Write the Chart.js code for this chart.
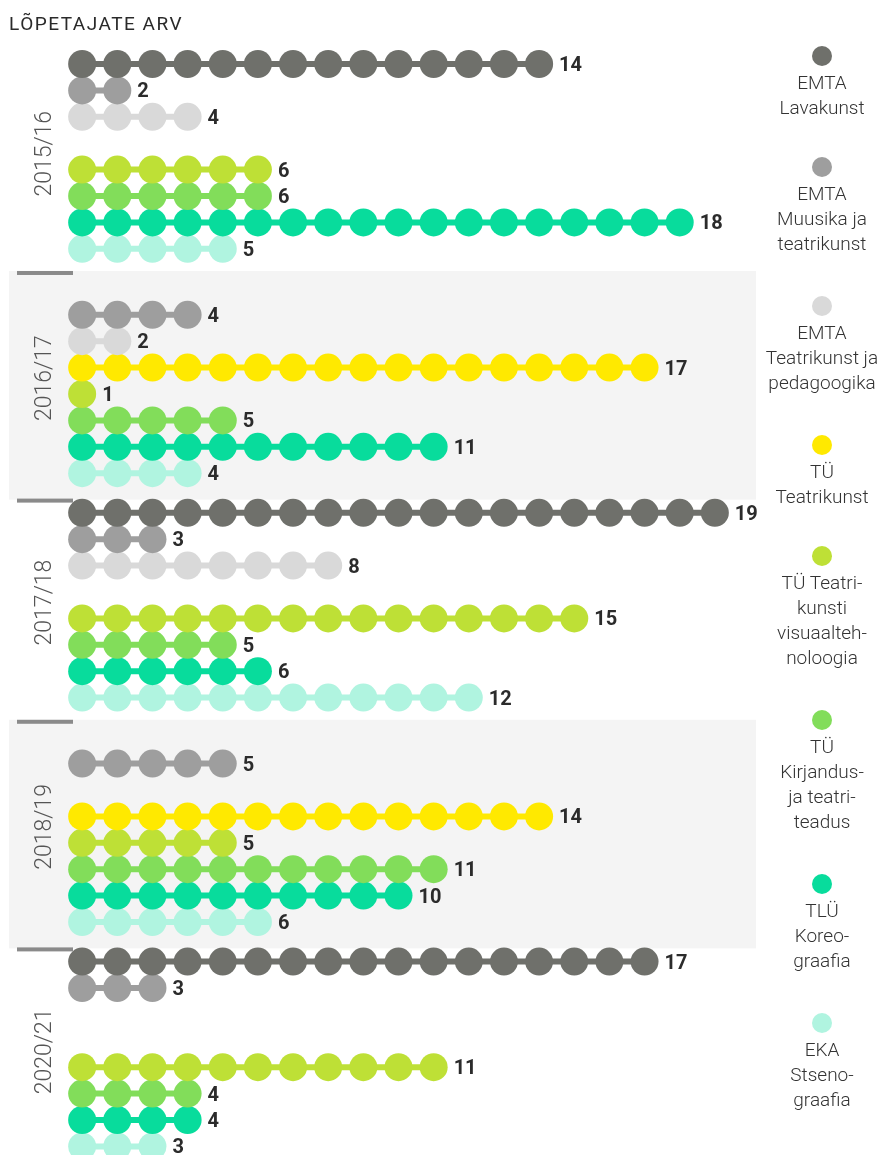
<!DOCTYPE html>
<html>
<head>
<meta charset="utf-8">
<script src="https://cdn.jsdelivr.net/npm/chart.js@4/dist/chart.umd.min.js"></script>
<style>
    body { margin: 0; background: #fff; font-family: Roboto, sans-serif; }
    #wrap { position: relative; width: 884px; height: 1155px; overflow: hidden; }
    #title { position: absolute; left: 9px; top: 12px; font-size: 19px; letter-spacing: 1.5px; color: #2a2a2a; }
    #legend { position: absolute; left: 752px; top: 46px; width: 140px; text-align: center; }
    .item { margin-bottom: 40px; }
    .item.short { margin-bottom: 37px; }
    .dot { width: 20px; height: 20px; border-radius: 50%; margin: 0 auto 4px auto; }
    .lbl { font-size: 19px; font-weight: 300; line-height: 25px; color: #333; white-space: nowrap; }
    #chart-box { position: absolute; left: 0; top: 0; width: 884px; height: 1155px; }
</style>
</head>
<body>
<div id="wrap">
    <div id="chart-box"><canvas id="chart"></canvas></div>
    <div id="title">LÕPETAJATE ARV</div>
    <div id="legend"></div>
</div>
<script>
// years (groups of rows) and programmes
const years = ['2015/16', '2016/17', '2017/18', '2018/19', '2020/21'];
const programmes = [
    ['EMTA', 'Lavakunst'],
    ['EMTA', 'Muusika ja', 'teatrikunst'],
    ['EMTA', 'Teatrikunst ja', 'pedagoogika'],
    ['TÜ', 'Teatrikunst'],
    ['TÜ Teatri-', 'kunsti', 'visuaalteh-', 'noloogia'],
    ['TÜ', 'Kirjandus-', 'ja teatri-', 'teadus'],
    ['TLÜ', 'Koreo-', 'graafia'],
    ['EKA', 'Stseno-', 'graafia']
];

// graduates per year (null = no graduates that year)
const emtaLavakunst = [14, null, 19, null, 17];
const emtaMuusika = [2, 4, 3, 5, 3];
const emtaTeatrikunst = [4, 2, 8, null, null];
const tuTeatrikunst = [null, 17, null, 14, null];
const tuVisuaal = [6, 1, 15, 5, 11];
const tuKirjandus = [6, 5, 5, 11, 4];
const tluKoreo = [18, 11, 6, 10, 4];
const ekaStseno = [5, 4, 12, 6, 3];

const series = [emtaLavakunst, emtaMuusika, emtaTeatrikunst, tuTeatrikunst,
                tuVisuaal, tuKirjandus, tluKoreo, ekaStseno];

const colors = ['#6f706b', '#9e9e9e', '#d9d9d9', '#ffe900',
                '#bee036', '#82dd5a', '#08dc9c', '#b0f4e0'];

const YEAR_STEP = 8.5; // rows per year block incl. spacing

// legend (html)
const legendEl = document.getElementById('legend');
programmes.forEach((lines, i) => {
    const item = document.createElement('div');
    item.className = lines.length === 2 ? 'item short' : 'item';
    item.innerHTML = `<div class="dot" style="background:${colors[i]}"></div>` +
        `<div class="lbl">${lines.join('<br>')}</div>`;
    legendEl.appendChild(item);
});

// one line dataset per programme per year
const datasets = [];
years.forEach((yr, yi) => {
    series.forEach((vals, pi) => {
        const n = vals[yi];
        if (!n) return;
        const pts = [];
        for (let k = 1; k <= n; k++) pts.push({ x: k, y: yi * YEAR_STEP + pi });
        datasets.push({
            label: programmes[pi].join(' ') + ' ' + yr,
            data: pts,
            count: n,
            borderColor: colors[pi],
            backgroundColor: colors[pi],
            pointBackgroundColor: colors[pi],
            borderWidth: 6,
            pointRadius: 14,
            pointHoverRadius: 14,
            pointBorderWidth: 0,
            clip: false
        });
    });
});

const decorPlugin = {
    id: 'decor',
    beforeDatasetsDraw(chart) {
        const ctx = chart.ctx;
        const y = chart.scales.y;
        ctx.save();
        // grey bands for every second year
        [1, 3].forEach(yi => {
            const top = y.getPixelForValue(yi * YEAR_STEP - 0.66);
            const bot = y.getPixelForValue(yi * YEAR_STEP + 8.0);
            ctx.fillStyle = '#f4f4f4';
            ctx.fillRect(9, top, 747, bot - top);
            ctx.fillStyle = '#8a8a8a';
            ctx.fillRect(17, top, 56, 4);
            ctx.fillRect(17, bot - 1, 56, 4);
        });
        // year labels
        ctx.fillStyle = '#555';
        ctx.font = '300 23px Roboto';
        ctx.textAlign = 'center';
        ctx.textBaseline = 'middle';
        years.forEach((yr, yi) => {
            const cy = y.getPixelForValue(yi * YEAR_STEP + 3.4);
            ctx.save();
            ctx.translate(45, cy);
            ctx.rotate(-Math.PI / 2);
            ctx.fillText(yr, 0, 0);
            ctx.restore();
        });
        ctx.restore();
    },
    afterDatasetsDraw(chart) {
        const ctx = chart.ctx;
        ctx.save();
        ctx.fillStyle = '#2b2b2b';
        ctx.font = 'bold 20px Roboto';
        ctx.textAlign = 'left';
        ctx.textBaseline = 'middle';
        chart.data.datasets.forEach((ds, i) => {
            const pts = chart.getDatasetMeta(i).data;
            const last = pts[pts.length - 1];
            ctx.fillText(String(ds.count), last.x + 20, last.y + 2);
        });
        ctx.restore();
    }
};

const SLOT = 26.4;
const FIRST_ROW = 64;

function draw() {
    new Chart(document.getElementById('chart'), {
        type: 'line',
        data: { datasets },
        options: {
            responsive: true,
            maintainAspectRatio: false,
            animation: false,
            events: [],
            layout: {
                autoPadding: false,
                padding: { left: 47, right: 134, top: FIRST_ROW - SLOT, bottom: 1155 - (FIRST_ROW + 41.3 * SLOT) }
            },
            scales: {
                x: { type: 'linear', min: 0, max: 20, display: false },
                y: { type: 'linear', min: -1, max: 41.3, reverse: true, display: false }
            },
            plugins: {
                legend: { display: false },
                tooltip: { enabled: false }
            }
        },
        plugins: [decorPlugin]
    });
}

Promise.all([
    document.fonts.load('bold 20px Roboto'),
    document.fonts.load('300 23px Roboto')
]).then(draw, draw);
</script>
</body>
</html>
